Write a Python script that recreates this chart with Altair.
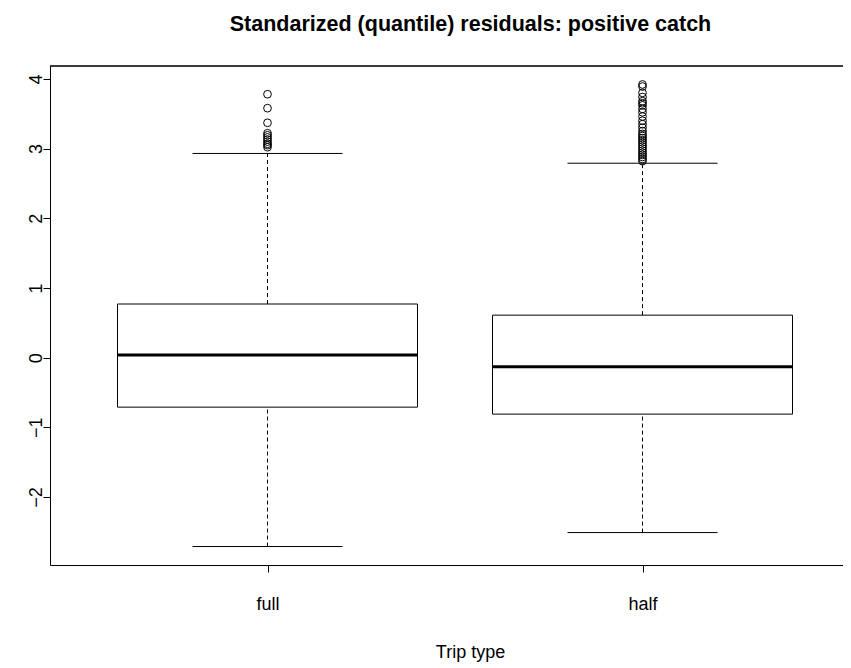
import altair as alt
import pandas as pd

# ---- data ----
groups = ["full", "half"]
group_pos = [1, 2]
q1 = [-0.71, -0.81]
median = [0.04, -0.13]
q3 = [0.77, 0.61]
lower_whisker = [-2.71, -2.51]
upper_whisker = [2.93, 2.79]

full_outliers = [3.78, 3.58, 3.37, 3.22, 3.19, 3.16, 3.13, 3.10, 3.07, 3.05, 3.02]
half_outliers = [3.92, 3.89, 3.80, 3.74, 3.68, 3.65, 3.62, 3.57, 3.52, 3.46, 3.40,
                 3.35, 3.30, 3.25, 3.21, 3.18, 3.15, 3.12, 3.09, 3.06, 3.03, 3.00,
                 2.97, 2.94, 2.91, 2.88, 2.85, 2.82]

box_df = pd.DataFrame({
    "group": groups, "pos": group_pos, "q1": q1, "median": median, "q3": q3,
    "lo": lower_whisker, "hi": upper_whisker,
})
out_df = pd.DataFrame({
    "group": ["full"] * len(full_outliers) + ["half"] * len(half_outliers),
    "pos": [1] * len(full_outliers) + [2] * len(half_outliers),
    "value": full_outliers + half_outliers,
})

W, H = 793, 499
x_scale = alt.Scale(domain=[0.42, 0.42 + W / 375.0], nice=False, zero=False)
y_scale = alt.Scale(domain=[-2.975, 4.185], nice=False, zero=False)

FONT = "Liberation Sans"

x_axis = alt.Axis(values=[1, 2], labelExpr="datum.value == 1 ? 'full' : 'half'",
                  title="Trip type", grid=False, tickSize=7, tickColor="black",
                  domainColor="black", labelFontSize=18, labelPadding=23,
                  labelColor="black", labelFont=FONT, titleFont=FONT,
                  titleFontSize=18, titleFontWeight="normal", titleColor="black",
                  titleY=87, titleBaseline="middle", titleX=420)
y_axis = alt.Axis(values=[-2, -1, 0, 1, 2, 3, 4], title=None, grid=False,
                  tickSize=7, tickColor="black", domainColor="black",
                  labelAngle=270, labelAlign="center", labelBaseline="alphabetic",
                  labelFontSize=18, labelPadding=2, labelColor="black",
                  labelFont=FONT, format="d")

base = alt.Chart(box_df).transform_calculate(
    xl="datum.pos - 0.4", xr="datum.pos + 0.4",
    cl="datum.pos - 0.2", cr="datum.pos + 0.2",
)

whisk_up = base.mark_rule(color="black", strokeWidth=1, strokeDash=[4, 3]).encode(
    x=alt.X("pos:Q", scale=x_scale, axis=x_axis),
    y=alt.Y("q3:Q", scale=y_scale, axis=y_axis),
    y2="hi:Q",
)
whisk_lo = base.mark_rule(color="black", strokeWidth=1, strokeDash=[4, 3]).encode(
    x="pos:Q", y="lo:Q", y2="q1:Q",
)
cap_hi = base.mark_rule(color="black", strokeWidth=1).encode(
    x="cl:Q", x2="cr:Q", y="hi:Q",
)
cap_lo = base.mark_rule(color="black", strokeWidth=1).encode(
    x="cl:Q", x2="cr:Q", y="lo:Q",
)
box = base.mark_rect(fill="white", stroke="black", strokeWidth=1).encode(
    x="xl:Q", x2="xr:Q", y="q1:Q", y2="q3:Q",
)
med = base.mark_rule(color="black", strokeWidth=3).encode(
    x="xl:Q", x2="xr:Q", y="median:Q",
)
pts = alt.Chart(out_df).mark_point(shape="circle", filled=False, color="black",
                                   size=60, strokeWidth=1, opacity=1).encode(
    x="pos:Q", y="value:Q",
)
top_border = alt.Chart(box_df).mark_rule(color="black", strokeWidth=1).encode(
    x=alt.value(0), x2=alt.value(W), y=alt.value(0),
)

chart = alt.layer(
    whisk_up, whisk_lo, cap_hi, cap_lo, box, med, pts, top_border
).properties(
    width=W, height=H,
    title=alt.Title("Standarized (quantile) residuals: positive catch",
                    font=FONT, fontSize=21.5, fontWeight="bold", color="black",
                    anchor="middle", dx=24, offset=30),
    autosize=alt.AutoSizeParams(type="none"),
    padding={"left": 42, "top": 58, "right": 0, "bottom": 102},
).configure_view(stroke=None).configure(background="white")

chart.save("out.html", embed_options={"renderer": "svg", "actions": False})
